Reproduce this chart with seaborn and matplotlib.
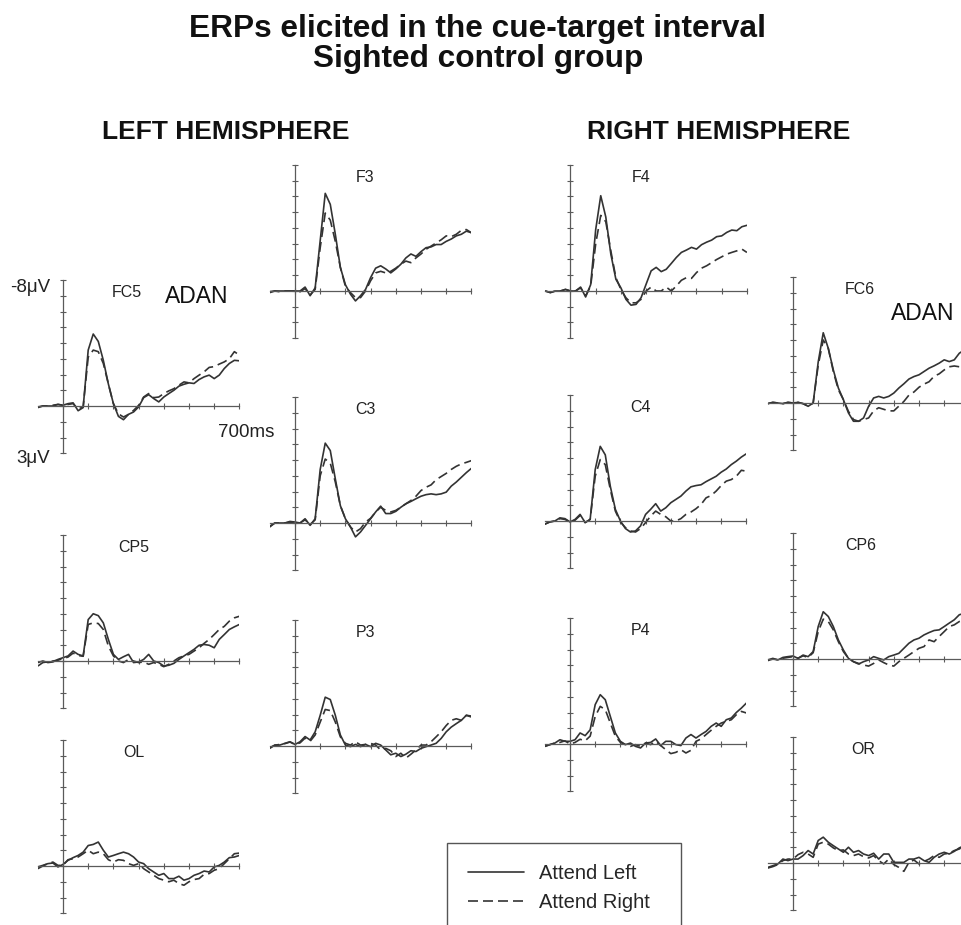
import numpy as np
import pandas as pd
import matplotlib
matplotlib.use("Agg")
import matplotlib.pyplot as plt
import seaborn as sns

# ---------------- data (µV, negative plotted upward) ----------------
times = np.arange(-100, 701, 20)          # ms, sampling grid of the read-off values
conditions = ["Attend Left", "Attend Right"]
electrodes = ["FC5", "CP5", "OL", "F3", "C3", "P3", "F4", "C4", "P4", "FC6", "CP6", "OR"]

fc5_left = [0.06, 0.0, 0.0, 0.0, -0.1, -0.05, -0.15, -0.2, 0.3, 0.1,
            -3.55, -4.57, -4.1, -2.9, -1.4, -0.15, 0.66, 0.87, 0.53, 0.38,
            0.06, -0.53, -0.72, -0.47, -0.26, -0.57, -0.79, -1.0, -1.26, -1.38,
            -1.47, -1.43, -1.68, -1.85, -1.96, -1.74, -1.96, -2.38, -2.7, -2.9, -2.87]
fc5_right = [0.1, 0.0, 0.0, -0.05, -0.1, -0.05, -0.1, -0.15, 0.2, 0.05,
             -3.1, -3.55, -3.45, -2.7, -1.4, -0.15, 0.5, 0.7, 0.53, 0.28,
             -0.04, -0.57, -0.79, -0.53, -0.57, -0.79, -0.96, -1.1, -1.32, -1.53,
             -1.47, -1.74, -1.96, -2.17, -2.45, -2.5, -2.66, -2.8, -3.0, -3.45, -3.23]
cp5_left = [0.1, 0.0, 0.1, 0.06, -0.1, -0.21, -0.32, -0.63, -0.42, -0.32,
            -2.63, -3.0, -2.88, -2.42, -1.37, -0.42, -0.1, -0.27, -0.42, 0.1,
            0.06, -0.1, -0.42, 0.0, 0.1, 0.32, 0.27, 0.15, -0.1, -0.32,
            -0.53, -0.74, -1.0, -1.05, -1.0, -0.84, -1.37, -1.68, -2.0, -2.17, -2.32]
cp5_right = [0.32, 0.1, 0.05, 0.0, -0.05, -0.15, -0.25, -0.5, -0.35, -0.3,
             -2.32, -2.42, -2.38, -2.0, -0.95, -0.32, 0.0, 0.1, -0.1, 0.0,
             0.1, 0.06, 0.21, 0.1, 0.21, 0.36, 0.21, 0.0, -0.21, -0.32,
             -0.42, -0.63, -0.84, -1.12, -1.37, -1.68, -2.0, -2.2, -2.53, -2.74, -2.84]
ol_left = [0.06, -0.04, -0.15, -0.19, 0.06, -0.1, -0.36, -0.53, -0.67, -0.88,
           -1.3, -1.37, -1.52, -1.0, -0.57, -0.67, -0.78, -0.88, -0.78, -0.57,
           -0.25, -0.15, 0.17, 0.38, 0.59, 0.48, 0.8, 0.8, 0.65, 0.9,
           0.8, 0.59, 0.48, 0.32, 0.38, 0.06, -0.04, -0.25, -0.53, -0.57, -0.67]
ol_right = [0.17, 0.0, -0.15, -0.25, -0.04, -0.04, -0.4, -0.46, -0.57, -0.78,
            -1.0, -0.78, -0.88, -0.78, -0.4, -0.25, -0.4, -0.36, -0.15, -0.04,
            -0.15, 0.17, 0.38, 0.59, 0.8, 0.9, 1.0, 0.9, 1.12, 1.22,
            1.0, 0.86, 0.8, 0.53, 0.48, 0.27, 0.17, -0.15, -0.46, -0.78, -0.82]
f3_left = [0.04, 0.0, 0.0, 0.0, 0.0, 0.0, 0.0, -0.25, 0.3, -0.2,
           -3.2, -6.2, -5.5, -3.6, -1.5, -0.4, 0.2, 0.63, 0.3, -0.1,
           -0.85, -1.45, -1.6, -1.4, -1.15, -1.4, -1.7, -2.1, -2.35, -2.2,
           -2.5, -2.75, -2.8, -2.95, -2.95, -3.15, -3.3, -3.5, -3.6, -3.8, -3.7]
f3_right = [0.1, 0.0, 0.05, 0.0, 0.0, 0.0, 0.05, -0.15, 0.25, -0.1,
            -2.75, -4.95, -4.5, -3.15, -1.5, -0.3, 0.1, 0.42, 0.42, 0.0,
            -0.65, -1.15, -1.25, -1.15, -1.25, -1.45, -1.7, -1.9, -1.8, -2.1,
            -2.35, -2.65, -2.85, -3.05, -3.25, -3.5, -3.45, -3.6, -3.85, -3.9, -3.7]
c3_left = [0.25, 0.0, 0.0, 0.0, -0.1, -0.06, 0.0, -0.27, 0.15, -0.27,
           -3.4, -5.07, -4.6, -2.8, -1.1, -0.27, 0.25, 0.88, 0.57, 0.15,
           -0.27, -0.7, -1.07, -0.6, -0.6, -0.74, -1.0, -1.22, -1.37, -1.54,
           -1.7, -1.8, -1.85, -1.8, -1.85, -1.96, -2.34, -2.6, -2.9, -3.2, -3.47]
c3_right = [0.2, 0.0, 0.0, 0.0, -0.05, -0.05, 0.0, -0.2, 0.1, -0.2,
            -3.0, -4.06, -3.8, -2.6, -1.1, -0.27, 0.25, 0.57, 0.36, -0.06,
            -0.3, -0.7, -1.0, -0.8, -0.7, -0.8, -1.0, -1.22, -1.43, -1.7,
            -2.06, -2.27, -2.42, -2.75, -2.95, -3.15, -3.4, -3.6, -3.75, -3.85, -3.96]
p3_left = [0.15, -0.06, -0.06, -0.17, -0.27, -0.1, -0.27, -0.6, -0.38, -0.9,
           -1.95, -3.1, -2.95, -1.95, -0.7, -0.06, 0.04, -0.1, 0.04, -0.1,
           0.04, -0.17, -0.06, 0.25, 0.56, 0.46, 0.67, 0.52, 0.3, 0.35,
           0.15, 0.04, -0.06, -0.17, -0.48, -0.9, -1.2, -1.42, -1.63, -1.95, -1.84]
p3_right = [0.1, -0.05, -0.1, -0.15, -0.25, -0.1, -0.2, -0.5, -0.3, -0.7,
            -1.52, -2.32, -2.25, -1.52, -0.58, -0.17, -0.06, -0.27, -0.06, -0.1,
            -0.17, -0.06, 0.25, 0.15, 0.3, 0.67, 0.46, 0.77, 0.52, 0.25,
            -0.06, -0.06, -0.27, -0.58, -0.9, -1.3, -1.63, -1.73, -1.63, -1.95, -1.9]
f4_left = [0.0, 0.1, 0.0, 0.0, -0.1, 0.0, 0.0, -0.25, 0.38, -0.4,
           -3.9, -6.05, -4.7, -2.35, -0.75, -0.2, 0.53, 0.9, 0.85, 0.43,
           -0.43, -1.28, -1.5, -1.23, -1.38, -1.75, -2.13, -2.45, -2.6, -2.77,
           -2.66, -2.94, -3.1, -3.23, -3.45, -3.5, -3.72, -3.87, -3.83, -4.08, -4.17]
f4_right = [0.0, 0.1, 0.0, 0.0, -0.1, 0.0, 0.0, -0.2, 0.3, -0.3,
            -3.0, -4.8, -4.4, -2.55, -0.85, -0.1, 0.43, 0.75, 0.75, 0.53,
            0.0, -0.25, 0.0, 0.0, -0.25, 0.0, -0.32, -0.68, -0.85, -0.8,
            -1.17, -1.45, -1.6, -1.8, -2.0, -2.17, -2.34, -2.45, -2.55, -2.66, -2.45]
c4_left = [0.2, 0.06, 0.0, -0.2, -0.15, 0.06, -0.1, -0.42, 0.1, -0.1,
           -3.26, -4.74, -4.2, -2.2, -0.74, 0.0, 0.48, 0.7, 0.63, 0.31,
           -0.42, -0.74, -1.1, -0.63, -0.84, -1.16, -1.37, -1.58, -1.9, -2.17,
           -2.25, -2.3, -2.5, -2.67, -2.84, -3.1, -3.3, -3.58, -3.8, -4.06, -4.27]
c4_right = [0.2, 0.06, 0.0, -0.15, -0.1, 0.06, -0.05, -0.35, 0.1, -0.1,
            -2.84, -3.9, -3.58, -2.0, -0.63, 0.06, 0.42, 0.63, 0.7, 0.48,
            0.1, -0.31, -0.63, -0.42, -0.27, 0.0, 0.0, -0.15, -0.42, -0.57,
            -0.78, -1.05, -1.47, -1.62, -1.9, -2.25, -2.53, -2.63, -2.84, -3.22, -3.16]
p4_left = [0.15, 0.04, -0.06, -0.27, -0.17, -0.17, -0.27, -0.7, -0.53, -0.9,
           -2.5, -3.13, -2.81, -1.75, -0.7, -0.17, 0.04, -0.06, 0.15, 0.25,
           -0.06, -0.1, -0.32, 0.1, -0.17, -0.17, 0.04, 0.1, -0.38, -0.6,
           -0.38, -0.6, -0.8, -1.12, -1.33, -1.12, -1.54, -1.65, -2.0, -2.28, -2.6]
p4_right = [0.15, 0.04, -0.06, -0.1, -0.2, 0.0, -0.1, -0.3, -0.2, -0.5,
            -1.75, -2.39, -2.18, -1.33, -0.49, -0.1, 0.04, 0.15, 0.04, 0.15,
            -0.06, 0.04, -0.17, 0.1, 0.36, 0.61, 0.53, 0.36, 0.57, 0.4,
            -0.17, -0.32, -0.6, -0.87, -1.12, -1.33, -1.44, -1.54, -1.86, -2.07, -1.97]
fc6_left = [0.04, -0.04, 0.0, 0.04, -0.04, 0.0, -0.04, 0.04, 0.21, 0.0,
            -2.6, -4.46, -3.47, -2.1, -0.95, -0.21, 0.63, 1.16, 1.16, 0.95,
            0.21, -0.32, -0.42, -0.32, -0.42, -0.63, -0.95, -1.22, -1.52, -1.68,
            -1.79, -2.0, -2.21, -2.36, -2.53, -2.74, -2.63, -2.74, -3.16, -3.37, -3.54]
fc6_right = [0.04, -0.04, 0.0, 0.04, -0.04, 0.0, -0.04, 0.04, 0.2, 0.0,
             -2.4, -4.0, -3.47, -2.0, -0.84, -0.21, 0.53, 1.05, 1.16, 1.05,
             0.95, 0.5, 0.3, 0.4, 0.5, 0.5, 0.2, -0.1, -0.5, -0.7,
             -1.0, -1.2, -1.35, -1.7, -1.85, -2.1, -2.3, -2.35, -2.3, -2.5, -2.6]
cp6_left = [0.06, -0.04, 0.06, -0.1, -0.15, -0.19, -0.04, -0.25, -0.15, -0.47,
            -2.06, -3.0, -2.7, -2.06, -1.21, -0.57, -0.04, 0.17, 0.32, 0.17,
            0.06, -0.15, -0.04, 0.06, -0.15, -0.25, -0.36, -0.68, -1.0, -1.21,
            -1.32, -1.53, -1.68, -1.81, -1.85, -2.06, -2.28, -2.49, -2.81, -2.9, -3.1]
cp6_right = [0.1, 0.0, 0.05, -0.05, -0.1, -0.15, -0.05, -0.2, -0.1, -0.4,
             -1.74, -2.53, -2.38, -1.85, -1.1, -0.47, -0.04, 0.17, 0.28, 0.38,
             0.45, 0.28, 0.06, 0.23, 0.38, 0.45, 0.17, -0.04, -0.25, -0.47,
             -0.68, -0.79, -1.21, -1.1, -1.43, -1.74, -2.06, -2.17, -2.38, -2.49, -2.6]
or_left = [0.28, 0.17, 0.06, -0.25, -0.15, -0.25, -0.25, -0.47, -0.79, -0.57,
           -1.43, -1.64, -1.32, -1.1, -0.89, -0.68, -1.0, -0.68, -0.79, -0.57,
           -0.47, -0.62, -0.25, -0.57, -0.57, -0.04, -0.04, -0.04, -0.25, -0.25,
           -0.36, -0.15, -0.04, -0.36, -0.57, -0.68, -0.57, -0.74, -0.96, -1.1, -1.2]
or_right = [0.32, 0.23, 0.1, -0.15, -0.25, -0.25, -0.53, -0.68, -0.57, -0.36,
            -1.2, -1.32, -1.2, -0.96, -0.79, -0.83, -0.57, -0.47, -0.57, -0.4,
            -0.32, -0.47, -0.15, 0.06, -0.25, 0.1, 0.28, 0.53, -0.04, -0.19,
            0.06, -0.1, -0.25, -0.47, -0.36, -0.57, -0.62, -0.79, -0.89, -1.1, -1.2]

series = {
    "FC5": (fc5_left, fc5_right), "CP5": (cp5_left, cp5_right), "OL": (ol_left, ol_right),
    "F3": (f3_left, f3_right), "C3": (c3_left, c3_right), "P3": (p3_left, p3_right),
    "F4": (f4_left, f4_right), "C4": (c4_left, c4_right), "P4": (p4_left, p4_right),
    "FC6": (fc6_left, fc6_right), "CP6": (cp6_left, cp6_right), "OR": (or_left, or_right),
}

# ---------------- layout ----------------
W, H = 962, 925
PX_MS = 0.252      # pixels per ms
PX_UV = 15.75      # pixels per µV
# (pixel x of the y-axis, pixel y of the -8 µV end)
panel_pos = {
    "FC5": (63, 280), "CP5": (63, 535), "OL": (63, 740),
    "F3": (295, 165), "C3": (295, 397), "P3": (295, 620),
    "F4": (570.5, 165), "C4": (570, 395), "P4": (570, 618),
    "FC6": (793, 277), "CP6": (793, 533), "OR": (793, 737),
}
label_x = {"FC5": 253, "FC6": 266, "CP6": 267}

LINE_C = "#333333"
AXIS_C = "#5a5a5a"

sns.set_style("white")
plt.rcParams["font.family"] = ["Liberation Sans", "DejaVu Sans"]

fig = plt.figure(figsize=(W / 100, H / 100), dpi=100)


def fx(x):
    return x / W


def fy(y):
    return 1 - y / H


axes = {}
for name in electrodes:
    x0, top = panel_pos[name]
    width_px = 800 * PX_MS
    height_px = 11 * PX_UV
    ax = fig.add_axes([fx(x0 - 100 * PX_MS), fy(top + height_px), width_px / W, height_px / H])
    ax.patch.set_visible(False)
    left, right = series[name]
    df = pd.DataFrame({
        "time": np.concatenate([times, times]),
        "uV": np.concatenate([left, right]),
        "condition": [conditions[0]] * len(times) + [conditions[1]] * len(times),
    })
    sns.lineplot(data=df, x="time", y="uV", style="condition", style_order=conditions,
                 dashes={conditions[0]: "", conditions[1]: (6, 3)},
                 color=LINE_C, linewidth=1.2, errorbar=None, legend=False, ax=ax)
    ax.set_xlim(-100, 700)
    ax.set_ylim(3, -8)
    for s in ["top", "right"]:
        ax.spines[s].set_visible(False)
    ax.spines["left"].set_position(("data", 0))
    ax.spines["bottom"].set_position(("data", 0))
    for s in ["left", "bottom"]:
        ax.spines[s].set_color(AXIS_C)
        ax.spines[s].set_linewidth(0.9)
    ax.set_xticks(range(0, 701, 100))
    ax.set_yticks(range(-8, 4))
    ax.tick_params(direction="inout", length=4.5, width=0.8, colors=AXIS_C,
                   labelleft=False, labelbottom=False, left=True, bottom=True)
    ax.set_xlabel("")
    ax.set_ylabel("")
    ax.text(label_x.get(name, 280), -6.9, name, ha="center", va="baseline",
            fontsize=11.5, color="#222222")
    axes[name] = ax

# ---------------- texts ----------------
fig.text(fx(478), fy(36.7), "ERPs elicited in the cue-target interval", ha="center",
         va="baseline", fontsize=22.8, fontweight="bold", color="#111111")
fig.text(fx(478), fy(66.7), "Sighted control group", ha="center",
         va="baseline", fontsize=22.8, fontweight="bold", color="#111111")
fig.text(fx(226), fy(139.3), "LEFT HEMISPHERE", ha="center", va="baseline",
         fontsize=19, fontweight="bold", color="#111111")
fig.text(fx(719), fy(139.3), "RIGHT HEMISPHERE", ha="center", va="baseline",
         fontsize=19, fontweight="bold", color="#111111")

fig.text(fx(30), fy(292.3), "-8\u03bcV", ha="center", va="baseline", fontsize=13.5, color="#222222")
fig.text(fx(33), fy(463), "3\u03bcV", ha="center", va="baseline", fontsize=13.5, color="#222222")
fig.text(fx(246.5), fy(436.7), "700ms", ha="center", va="baseline", fontsize=13.5, color="#222222")
fig.text(fx(197), fy(302.7), "ADAN", ha="center", va="baseline", fontsize=16.5, color="#111111")
fig.text(fx(923), fy(320), "ADAN", ha="center", va="baseline", fontsize=16.5, color="#111111")

# ---------------- legend ----------------
handles = axes["FC5"].lines[:2]
fig.legend(handles, conditions, loc="upper left",
           bbox_to_anchor=(fx(447), 0.0, (681 - 447) / W, fy(843)),
           mode="expand", borderaxespad=0, fontsize=14.5, frameon=True,
           fancybox=False, edgecolor="#555555", framealpha=1,
           borderpad=1.05, handlelength=2.75, handletextpad=0.75, labelspacing=0.5)

fig.savefig("out.png", dpi=100)
